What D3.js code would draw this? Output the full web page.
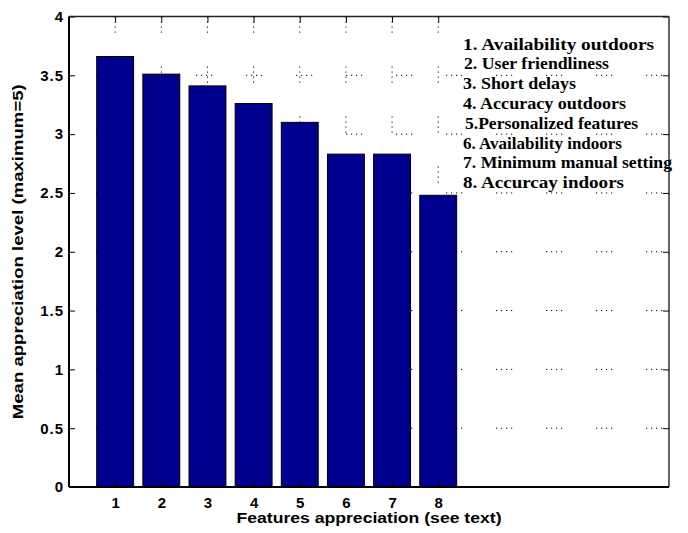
<!DOCTYPE html>
<html>
<head>
<meta charset="utf-8">
<script src="https://cdn.jsdelivr.net/npm/d3@7"></script>
<style>
  html, body { margin: 0; padding: 0; background: #fff; }
  svg { display: block; }
</style>
</head>
<body>
<svg id="chart" width="688" height="533"></svg>
<script>
// ---- data ----
const categories = [1, 2, 3, 4, 5, 6, 7, 8];
const values = [3.66, 3.51, 3.41, 3.26, 3.10, 2.83, 2.83, 2.48];
const yTicks = [0, 0.5, 1, 1.5, 2, 2.5, 3, 3.5, 4];
const yTickLabels = ["0", "0.5", "1", "1.5", "2", "2.5", "3", "3.5", "4"];
const xTickLabels = ["1", "2", "3", "4", "5", "6", "7", "8"];
const legendLines = [
  "1. Availability outdoors",
  "2. User friendliness",
  "3. Short delays",
  "4. Accuracy outdoors",
  "5.Personalized features",
  "6. Availability indoors",
  "7. Minimum manual setting",
  "8. Accurcay indoors"
];
const xTitle = "Features appreciation (see text)";
const yTitle = "Mean appreciation level (maximum=5)";

// ---- layout ----
const L = 69, R = 669, T = 16.5, B = 487;
const legendX = [463, 464, 463, 463, 465, 463, 463, 463];
const legendEnd = [654, 609, 576, 626, 638, 622, 672, 624];

const svg = d3.select("#chart");
const x = d3.scaleLinear().domain([0, 13]).range([L, R]);
const y = d3.scaleLinear().domain([0, 4]).range([B, T]);
const barW = (x(1) - x(0)) * 0.8;
const dots = "1.2,3.8,1.2,3.8,1.2,3.8,1.2,33.8";

// grid
const grid = svg.append("g");
grid.selectAll("line.h").data(yTicks.slice(1, -1)).enter().append("line")
  .attr("x1", L).attr("x2", R).attr("y1", d => y(d)).attr("y2", d => y(d))
  .attr("stroke", "#000").attr("stroke-width", 1)
  .attr("stroke-dasharray", dots).attr("stroke-dashoffset", -27);
grid.selectAll("line.v").data(categories).enter().append("line")
  .attr("x1", d => x(d)).attr("x2", d => x(d)).attr("y1", T).attr("y2", B)
  .attr("stroke", "#000").attr("stroke-width", 1)
  .attr("stroke-dasharray", dots).attr("stroke-dashoffset", 0);

// bars
svg.append("g").selectAll("rect").data(values).enter().append("rect")
  .attr("x", (d, i) => x(categories[i]) - barW / 2)
  .attr("width", barW)
  .attr("y", d => y(d))
  .attr("height", d => y(0) - y(d))
  .attr("fill", "#00008f")
  .attr("stroke", "#000").attr("stroke-width", 1);

// axes (box)
const tickLen = 6;
const axL = d3.axisLeft(y).tickValues(yTicks).tickSize(-tickLen).tickFormat((d, i) => yTickLabels[i]).tickPadding(5);
const axR = d3.axisRight(y).tickValues(yTicks).tickSize(-tickLen).tickFormat("");
const axT = d3.axisTop(x).tickValues(categories).tickSize(-tickLen).tickFormat("");
const axB = d3.axisBottom(x).tickValues(categories).tickSize(-tickLen).tickFormat((d, i) => xTickLabels[i]).tickPadding(10);

const gl = svg.append("g").attr("transform", `translate(${L},0)`).call(axL);
const gr = svg.append("g").attr("transform", `translate(${R},0)`).call(axR);
const gt = svg.append("g").attr("transform", `translate(0,${T})`).call(axT);
const gb = svg.append("g").attr("transform", `translate(0,${B})`).call(axB);
[gl, gr, gt, gb].forEach(g => {
  g.select(".domain").attr("stroke", "#000").attr("stroke-width", 2);
  g.selectAll(".tick line").attr("stroke", "#000").attr("stroke-width", 1);
});
gl.select(".domain").attr("d", `M0,${B}V${T}`);
gr.select(".domain").attr("d", `M0,${B}V${T}`).attr("stroke-width", 1.5).attr("stroke", "#333");
gt.select(".domain").attr("d", `M${L},0H${R}`).attr("stroke-width", 1.5).attr("stroke", "#222");
gb.select(".domain").attr("d", `M${L},0H${R}`);

gl.selectAll(".tick text")
  .attr("font-family", "'Liberation Sans', Arial, sans-serif")
  .attr("font-weight", "bold").attr("font-size", 15)
  .attr("letter-spacing", 1).attr("fill", "#000");
gb.selectAll(".tick text")
  .attr("font-family", "'Liberation Sans', Arial, sans-serif")
  .attr("font-weight", "bold").attr("font-size", 15)
  .attr("fill", "#000");

// axis titles
svg.append("text")
  .attr("x", (L + R) / 2).attr("y", 523)
  .attr("text-anchor", "middle")
  .attr("font-family", "'Liberation Sans', Arial, sans-serif")
  .attr("font-weight", "bold").attr("font-size", 14)
  .attr("textLength", 265).attr("lengthAdjust", "spacingAndGlyphs")
  .text(xTitle);

svg.append("text")
  .attr("transform", `translate(23,${(T + B) / 2}) rotate(-90)`)
  .attr("text-anchor", "middle")
  .attr("font-family", "'Liberation Sans', Arial, sans-serif")
  .attr("font-weight", "bold").attr("font-size", 14)
  .attr("textLength", 335).attr("lengthAdjust", "spacingAndGlyphs")
  .text(yTitle);

// annotation text
svg.append("g").selectAll("text").data(legendLines).enter().append("text")
  .attr("x", (d, i) => legendX[i])
  .attr("y", (d, i) => 49.5 + i * 19.8)
  .attr("font-family", "'Liberation Serif', 'Times New Roman', serif")
  .attr("font-weight", "bold").attr("font-size", 16)
  .attr("textLength", (d, i) => legendEnd[i] - legendX[i])
  .attr("lengthAdjust", "spacingAndGlyphs")
  .attr("fill", "#000")
  .text(d => d);
</script>
</body>
</html>
